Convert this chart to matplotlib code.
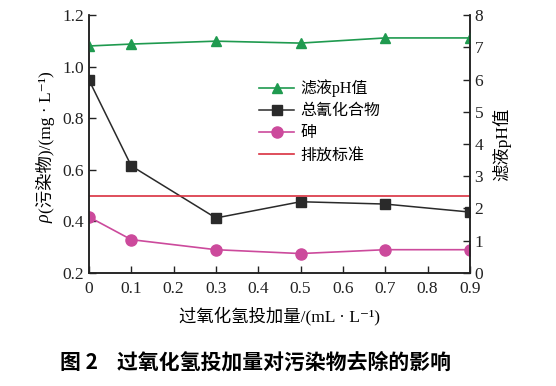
import matplotlib
matplotlib.use("Agg")
import matplotlib.pyplot as plt
from matplotlib.ticker import MultipleLocator

plt.rcParams['font.family'] = ['Liberation Serif', 'Noto Sans CJK SC', 'DejaVu Serif']

# data
dose = [0, 0.1, 0.3, 0.5, 0.7, 0.9]
ph = [7.04, 7.10, 7.19, 7.13, 7.29, 7.29]
cyanide = [0.948, 0.615, 0.413, 0.476, 0.467, 0.436]
arsenic = [0.417, 0.329, 0.290, 0.275, 0.290, 0.290]
standard = 0.5
xticks = [0, 0.1, 0.2, 0.3, 0.4, 0.5, 0.6, 0.7, 0.8, 0.9]

green = '#1f9a4f'
black = '#2a2a2a'
pink = '#cc4a9c'
red = '#d9303f'

fig = plt.figure(figsize=(5.56, 3.86), dpi=100)
ax = fig.add_axes([0.160, 0.293, 0.685, 0.668])
ax2 = ax.twinx()

# pH on right axis
l1, = ax2.plot(dose, ph, color=green, marker='^', ms=7.5, lw=1.2, label='滤液pH值')
l2, = ax.plot(dose, cyanide, color=black, marker='s', ms=6.5, lw=1.1, label='总氰化合物')
l3, = ax.plot(dose, arsenic, color=pink, marker='o', ms=8, lw=1.2, label='砷')
l4 = ax.axhline(standard, color=red, lw=1.2, label='排放标准')

ax.set_xlim(0, 0.9)
ax.set_ylim(0.2, 1.2)
ax2.set_ylim(0, 8)
ax.set_xticks(xticks)
ax.set_xticklabels(['0' if v == 0 else f'{v:.1f}' for v in xticks])
ax.yaxis.set_major_locator(MultipleLocator(0.2))
ax2.yaxis.set_major_locator(MultipleLocator(1))

for a in (ax, ax2):
    a.spines['top'].set_visible(False)
    for s in a.spines.values():
        s.set_linewidth(1.1)
        s.set_color('#222222')
    a.tick_params(direction='in', length=5, width=1.0, labelsize=12.5, colors='#222222')
ax.tick_params(axis='x', pad=6)

ax.set_xlabel('过氧化氢投加量/(mL · L⁻¹)', fontsize=12.5, labelpad=7)
ax2.set_ylabel('滤液pH值', fontsize=12.5, labelpad=6)

# left label: italic rho + rest
fig.text(45 / 556, 1 - 219 / 386, 'ρ', rotation=90, ha='center', va='center',
         fontsize=13, style='italic')
fig.text(45 / 556, 1 - 213 / 386, '(污染物)/(mg · L⁻¹)', rotation=90, ha='center',
         va='bottom', fontsize=12.5)

ax.legend(handles=[l1, l2, l3, l4], loc='upper left', bbox_to_anchor=(0.43, 0.775),
          frameon=False, fontsize=11.5, handlelength=2.2, handletextpad=0.4,
          labelspacing=0.38, borderaxespad=0)

fig.text(0.46, 0.062, '图 2    过氧化氢投加量对污染物去除的影响', ha='center', va='center',
         fontsize=15, fontweight='bold', family=['Noto Sans CJK SC', 'DejaVu Sans'])

fig.savefig('out.png', dpi=100)
